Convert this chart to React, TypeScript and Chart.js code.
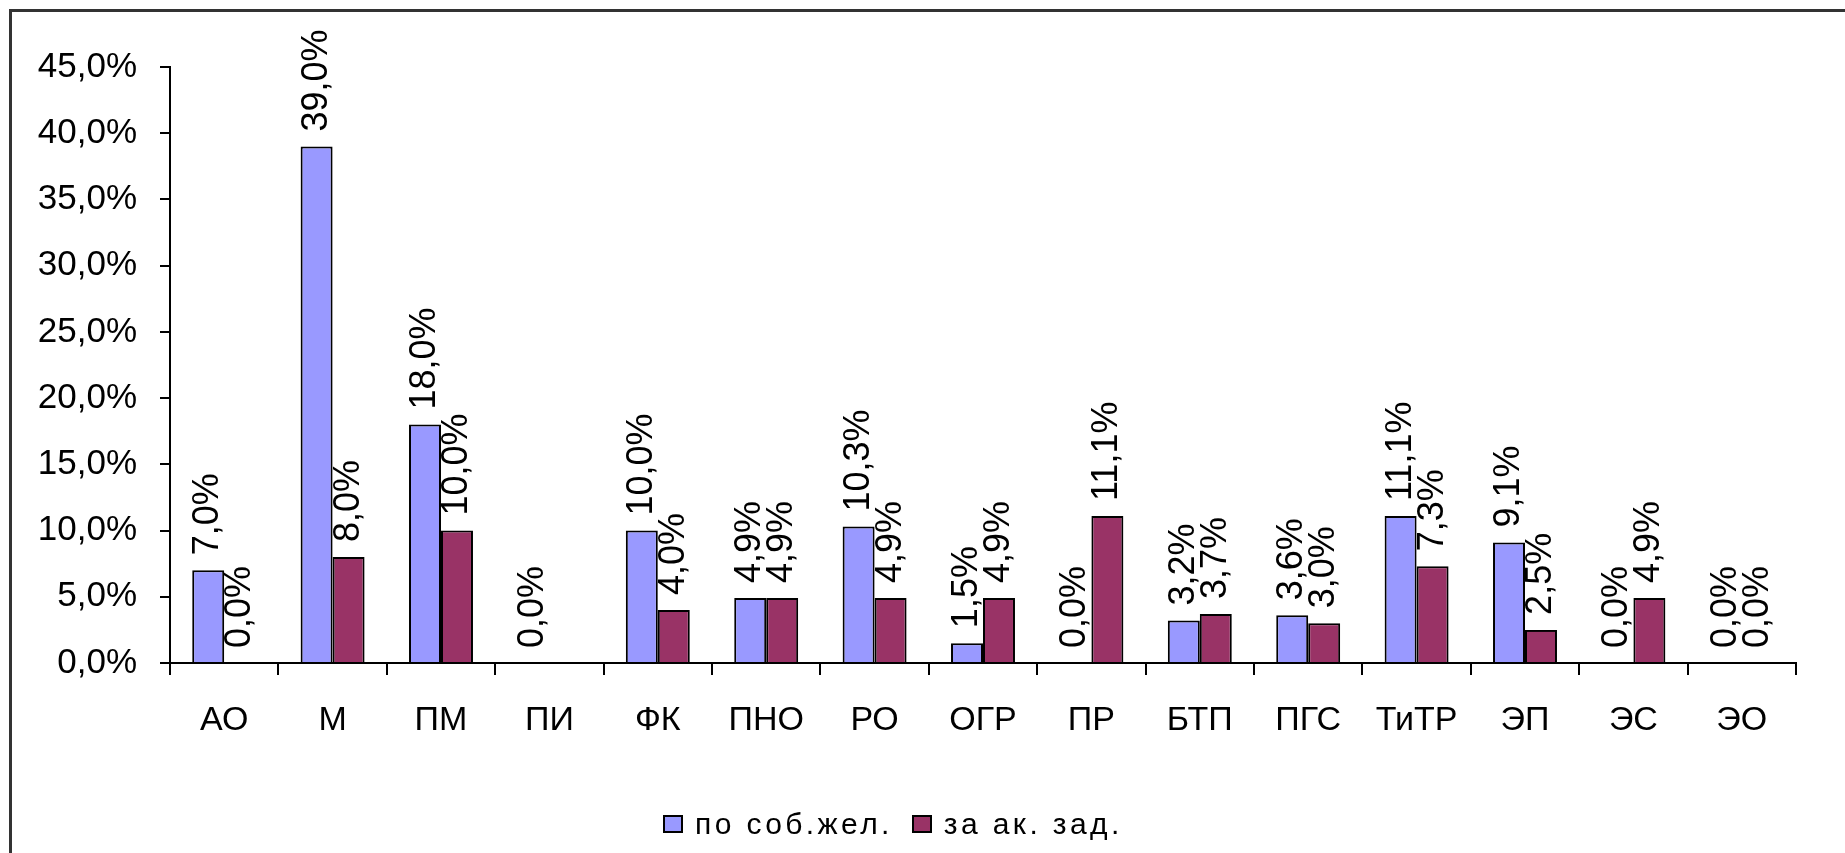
import React, { useEffect, useRef } from "react";
import { Chart, registerables } from "chart.js";

Chart.register(...registerables);

const categories = ["АО", "М", "ПМ", "ПИ", "ФК", "ПНО", "РО", "ОГР", "ПР", "БТП", "ПГС", "ТиТР", "ЭП", "ЭС", "ЭО"];
const seriesNames = ["по соб.жел.", "за ак. зад."];
const voluntary = [7.0, 39.0, 18.0, 0.0, 10.0, 4.9, 10.3, 1.5, 0.0, 3.2, 3.6, 11.1, 9.1, 0.0, 0.0];
const dismissed = [0.0, 8.0, 10.0, null, 4.0, 4.9, 4.9, 4.9, 11.1, 3.7, 3.0, 7.3, 2.5, 4.9, 0.0];
const yMin = 0;
const yMax = 45;
const yStep = 5;

const colors = ["#9999FF", "#993366"];
const FONT = "'Liberation Sans', Arial, sans-serif";

const fmt = (v: number) => v.toFixed(1).replace(".", ",") + "%";

const labelPlugin = {
  id: "barLabels",
  afterDatasetsDraw(chart: any) {
    const ctx = chart.ctx;
    ctx.save();
    ctx.fillStyle = "#000";
    ctx.font = `36px ${FONT}`;
    ctx.textAlign = "left";
    ctx.textBaseline = "middle";
    chart.data.datasets.forEach((ds: any, i: number) => {
      const meta = chart.getDatasetMeta(i);
      meta.data.forEach((bar: any, j: number) => {
        const v = ds.data[j];
        if (v == null) return;
        ctx.save();
        ctx.translate(bar.x, bar.y - 15);
        ctx.rotate(-Math.PI / 2);
        ctx.fillText(fmt(v), 0, 0);
        ctx.restore();
      });
    });
    ctx.restore();
  },
};

export default function App() {
  const ref = useRef<HTMLCanvasElement | null>(null);

  useEffect(() => {
    if (!ref.current) return;
    const chart = new Chart(ref.current, {
      type: "bar",
      data: {
        labels: categories,
        datasets: [
          {
            label: seriesNames[0],
            data: voluntary,
            backgroundColor: colors[0],
            borderColor: "#000",
            borderWidth: 2,
            categoryPercentage: 0.59,
            barPercentage: 1,
          },
          {
            label: seriesNames[1],
            data: dismissed as any,
            backgroundColor: colors[1],
            borderColor: "#000",
            borderWidth: 2,
            categoryPercentage: 0.59,
            barPercentage: 1,
          },
        ],
      },
      options: {
        responsive: false,
        animation: false,
        devicePixelRatio: 1,
        layout: { padding: { top: 67, right: 49, left: 0, bottom: 0 } },
        plugins: {
          legend: { display: false },
          tooltip: { enabled: false },
        },
        scales: {
          x: {
            grid: {
              offset: true,
              drawOnChartArea: false,
              drawTicks: true,
              tickLength: 12,
              color: "#000",
              lineWidth: 2,
            },
            border: { display: true, color: "#000", width: 2 },
            ticks: {
              color: "#000",
              font: { family: FONT, size: 34 },
              padding: 25,
              maxRotation: 0,
              autoSkip: false,
            },
            afterFit: (s: any) => {
              s.height = 853 - 663;
            },
          },
          y: {
            min: yMin,
            max: yMax,
            grid: {
              drawOnChartArea: false,
              drawTicks: true,
              tickLength: 10,
              color: "#000",
              lineWidth: 2,
            },
            border: { display: true, color: "#000", width: 2 },
            ticks: {
              stepSize: yStep,
              color: "#000",
              font: { family: FONT, size: 35 },
              padding: 23,
              callback: (v: any) => fmt(Number(v)),
            },
            afterFit: (s: any) => {
              s.width = 170;
            },
          },
        },
      },
      plugins: [labelPlugin],
    });
    return () => chart.destroy();
  }, []);

  const box = (c: string) => (
    <span
      style={{
        display: "inline-block",
        boxSizing: "border-box",
        width: 20,
        height: 18,
        background: c,
        border: "2px solid #000",
        marginRight: 12,
      }}
    />
  );

  return (
    <div style={{ position: "absolute", left: 0, top: 0, width: 1845, height: 853, background: "#fff", overflow: "hidden" }}>
      <div
        style={{
          position: "absolute",
          left: 9,
          top: 9,
          width: 1900,
          height: 900,
          borderTop: "3px solid #333",
          borderLeft: "3px solid #333",
        }}
      />
      <canvas ref={ref} width={1845} height={853} style={{ position: "absolute", left: 0, top: 0, width: 1845, height: 853 }} />
      <div
        style={{
          position: "absolute",
          left: 663,
          top: 805,
          height: 38,
          display: "flex",
          alignItems: "center",
          fontFamily: FONT,
          fontSize: 30,
          letterSpacing: 3.4,
          color: "#000",
          whiteSpace: "nowrap",
        }}
      >
        {box(colors[0])}
        <span style={{ marginRight: 19 }}>{seriesNames[0]}</span>
        {box(colors[1])}
        <span>{seriesNames[1]}</span>
      </div>
    </div>
  );
}
